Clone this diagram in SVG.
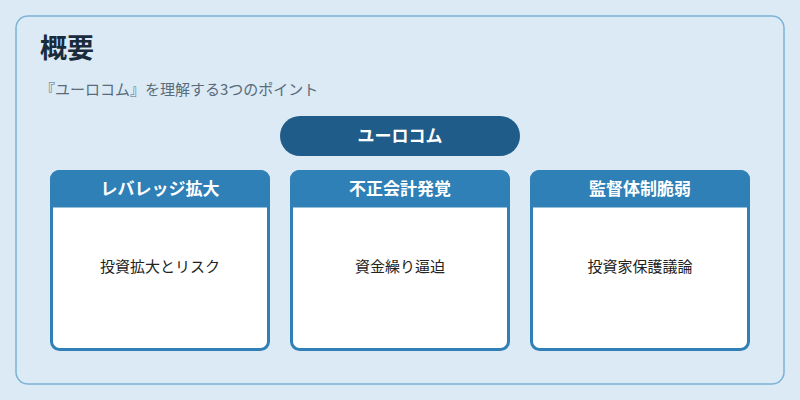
<svg xmlns="http://www.w3.org/2000/svg" width="800" height="400" viewBox="0 0 800 400">
<style>
text{font-family:"Noto Sans CJK JP","Noto Sans",sans-serif}
.card{fill:#fff;stroke:#2e80b6;stroke-width:3}
.hd{fill:#2e80b6}
.ht{fill:#fff;font-size:17px;font-weight:bold;text-anchor:middle}
.bt{fill:#222;font-size:15px;text-anchor:middle}
</style>
<rect width="800" height="400" fill="#dbeaf5"/>
<rect x="16" y="16" width="768" height="368" rx="12" fill="#dbeaf5" stroke="#7ab3d6" stroke-width="1.5"/>
<text x="40" y="58" font-size="27" font-weight="bold" fill="#1a2b3c">概要</text>
<text x="40" y="95" font-size="15" fill="#5a6b7c">『ユーロコム』を理解する3つのポイント</text>
<g id="main"><rect x="280" y="116" width="240" height="40" rx="20" fill="#1f5c8a"/><text x="400" y="142" class="ht">ユーロコム</text></g>
<g id="c1"><rect x="51.5" y="171.5" width="217" height="178" rx="8" class="card"/><path d="M51.5 206V179.5a8 8 0 0 1 8-8h201a8 8 0 0 1 8 8V206z" class="hd" stroke="#2e80b6" stroke-width="3"/><text x="160" y="195" class="ht">レバレッジ拡大</text><text x="160" y="272" class="bt">投資拡大とリスク</text></g>
<g id="c2"><rect x="291.5" y="171.5" width="217" height="178" rx="8" class="card"/><path d="M291.5 206V179.5a8 8 0 0 1 8-8h201a8 8 0 0 1 8 8V206z" class="hd" stroke="#2e80b6" stroke-width="3"/><text x="400" y="195" class="ht">不正会計発覚</text><text x="400" y="272" class="bt">資金繰り逼迫</text></g>
<g id="c3"><rect x="531.5" y="171.5" width="217" height="178" rx="8" class="card"/><path d="M531.5 206V179.5a8 8 0 0 1 8-8h201a8 8 0 0 1 8 8V206z" class="hd" stroke="#2e80b6" stroke-width="3"/><text x="640" y="195" class="ht">監督体制脆弱</text><text x="640" y="272" class="bt">投資家保護議論</text></g>
<g id="connectors"/>
</svg>
